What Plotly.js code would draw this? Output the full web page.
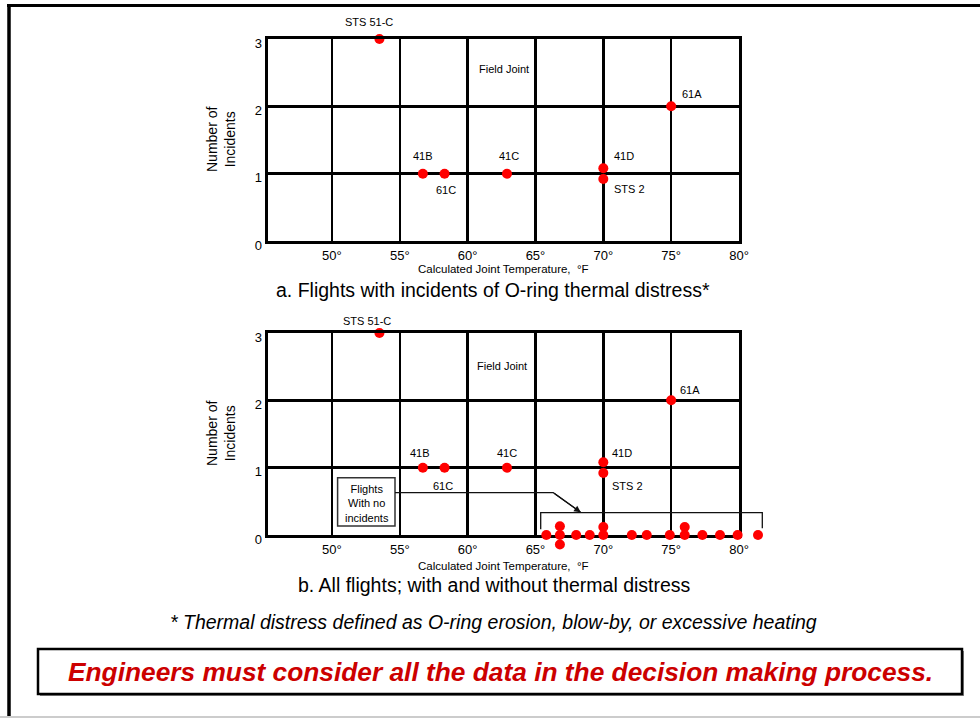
<!DOCTYPE html>
<html>
<head>
<meta charset="utf-8">
<script src="https://cdn.plot.ly/plotly-3.0.1.min.js"></script>
<style>
  html, body { margin: 0; padding: 0; background: #fff; }
  #chart { width: 980px; height: 719px; }
</style>
</head>
<body>
<div id="chart"></div>
<script>
// flights with O-ring incidents (field joint)
var flightNames = ['STS 51-C', '41B', '61C', '41C', '41D', 'STS 2', '61A'];
var incidentTemps = [53.5, 56.7, 58.3, 62.9, 70, 70, 75];
var incidentCounts = [3, 1, 1, 1, 1, 1, 2];
// as drawn: the two 70° flights are nudged apart so both dots show
var incidentPlotY = [3, 1, 1, 1, 1.08, 0.92, 2];

// flights with no incidents (only in chart b), stacked where temps repeat
var noIncidentTemps = [65.8, 66.8, 66.8, 66.8, 68, 69, 70, 70, 72.1, 73.2, 74.9, 76, 76, 77.3, 78.6, 79.9, 81.4];
var noIncidentPlotY = [0, 0.13, 0, -0.14, 0, 0, 0.12, 0, 0, 0, 0, 0.12, 0, 0, 0, 0, 0];

var tempTicks = [50, 55, 60, 65, 70, 75, 80];
var tempTickText = ['50°', '55°', '60°', '65°', '70°', '75°', '80°'];
var countTicks = [0, 1, 2, 3];

var W = 980, H = 719;
var FONT = 'Arial, "Liberation Sans", sans-serif';
function px(x) { return x / W; }
function py(y) { return 1 - y / H; }

// plot box, in page pixels
var LEFT = 267.5, RIGHT = 739;
var XMIN = 45.25, XMAX = 80;
var pxPerDeg = (RIGHT - LEFT) / (XMAX - XMIN);
var B_TOP = 333, B_BOTTOM = 535;
var pxPerCount = (B_BOTTOM - B_TOP) / 3;

var red = '#ff0000';

var traces = [
  {
    x: incidentTemps, y: incidentPlotY, xaxis: 'x', yaxis: 'y',
    type: 'scatter', mode: 'markers', cliponaxis: false,
    text: flightNames, customdata: incidentCounts,
    marker: { color: red, size: 10 }
  },
  {
    x: incidentTemps, y: incidentPlotY, xaxis: 'x2', yaxis: 'y2',
    type: 'scatter', mode: 'markers', cliponaxis: false,
    text: flightNames, customdata: incidentCounts,
    marker: { color: red, size: 10 }
  },
  // drawn on a hidden, slightly larger subplot with the same scale as chart b,
  // so the dots past 80° and below 0 are not cut off
  {
    x: noIncidentTemps, y: noIncidentPlotY, xaxis: 'x3', yaxis: 'y3',
    type: 'scatter', mode: 'markers', cliponaxis: false,
    marker: { color: red, size: 10 }
  }
];

function xAxis(anchor) {
  return {
    domain: [px(LEFT), px(RIGHT)], range: [XMIN, XMAX], anchor: anchor,
    tickvals: tempTicks, ticktext: tempTickText, ticks: '',
    tickfont: { family: FONT, size: 13, color: '#000' },
    showgrid: true, gridcolor: '#000', gridwidth: 2.5,
    showline: true, mirror: true, linecolor: '#000', linewidth: 3,
    zeroline: false, fixedrange: true
  };
}
function yAxis(anchor, top, bottom) {
  return {
    domain: [py(bottom), py(top)], range: [0, 3], anchor: anchor,
    tickvals: countTicks, ticks: '', ticklabelshift: 4,
    tickfont: { family: FONT, size: 13, color: '#000' },
    showgrid: true, gridcolor: '#000', gridwidth: 2.5,
    showline: true, mirror: true, linecolor: '#000', linewidth: 3,
    zeroline: false, fixedrange: true
  };
}
var hiddenRight = 800, hiddenBottom = 565;
var hiddenAxis = {
  visible: false, showgrid: false, zeroline: false, fixedrange: true
};

// label offsets in pixels from each flight's dot
var labelShiftA = [[-10, 17], [0, 18], [1, -16], [2, 18], [21, 12], [26, -10], [21, 12]];
var labelShiftB = [[-12, 12], [-3, 15], [-2, -18], [0, 15], [19, 9], [24, -13], [19, 10]];

var annotations = [];
function txt(x, y, text, size, extra) {
  var a = {
    xref: 'paper', yref: 'paper', x: px(x), y: py(y), text: text,
    showarrow: false, xanchor: 'center', yanchor: 'middle',
    font: { family: FONT, size: size, color: '#000' }
  };
  for (var k in extra) a[k] = extra[k];
  return a;
}

function flightLabels(xr, yr, shifts) {
  flightNames.forEach(function (name, i) {
    annotations.push({
      xref: xr, yref: yr, x: incidentTemps[i], y: incidentPlotY[i],
      xshift: shifts[i][0], yshift: shifts[i][1], text: name, showarrow: false,
      font: { family: FONT, size: 11, color: '#000' }
    });
  });
}
flightLabels('x', 'y', labelShiftA);
flightLabels('x2', 'y2', labelShiftB);

annotations.push(
  { xref: 'x', yref: 'y', x: 62.65, y: 2.55, text: 'Field Joint', showarrow: false,
    font: { family: FONT, size: 11, color: '#000' } },
  { xref: 'x2', yref: 'y2', x: 62.5, y: 2.51, text: 'Field Joint', showarrow: false,
    font: { family: FONT, size: 11, color: '#000' } },
  txt(221, 140, 'Number of<br>Incidents', 14, { textangle: -90 }),
  txt(221, 434, 'Number of<br>Incidents', 14, { textangle: -90 }),
  txt(503, 269.5, 'Calculated Joint Temperature,  °F', 11.5),
  txt(503, 566, 'Calculated Joint Temperature,  °F', 11.5),
  txt(493, 289.5, 'a. Flights with incidents of O-ring thermal distress*', 19.5),
  txt(494, 584.5, 'b. All flights; with and without thermal distress', 19.5),
  txt(493, 621.5, '<i>* Thermal distress defined as O-ring erosion, blow-by, or excessive heating</i>', 19.5),
  txt(500, 671.5, '<b><i>Engineers must consider all the data in the decision making process.</i></b>', 26.3,
      { font: { family: FONT, size: 26.3, color: '#cc0000' } }),
  txt(366.5, 503, 'Flights<br>With no<br>incidents', 11),
  // arrow head pointing at the bracket
  { xref: 'paper', yref: 'paper', x: px(580.7), y: py(512.3), ax: -27.4, ay: -19.6,
    text: '', showarrow: true, arrowhead: 2, arrowsize: 1.1, arrowwidth: 1.2, arrowcolor: '#111' }
);

function path(points) {
  return points.map(function (p, i) {
    return (i ? 'L' : 'M') + px(p[0]) + ',' + py(p[1]);
  }).join(' ');
}

var shapes = [
  // slide frame
  { type: 'line', xref: 'paper', yref: 'paper', x0: px(7), x1: 1, y0: py(5.5), y1: py(5.5),
    line: { color: '#000', width: 3 } },
  { type: 'line', xref: 'paper', yref: 'paper', x0: px(9), x1: px(9), y0: py(4), y1: py(716),
    line: { color: '#000', width: 3.5 } },
  { type: 'line', xref: 'paper', yref: 'paper', x0: 0, x1: 1, y0: py(717), y1: py(717),
    line: { color: '#bbbbbb', width: 1.5 } },
  // message box with shadow
  { type: 'rect', xref: 'paper', yref: 'paper', x0: px(40), x1: px(964), y0: py(651), y1: py(696),
    fillcolor: '#888888', line: { width: 0 } },
  { type: 'rect', xref: 'paper', yref: 'paper', x0: px(38), x1: px(962), y0: py(649), y1: py(694),
    fillcolor: '#ffffff', line: { color: '#000', width: 2.5 } },
  // "flights with no incidents" callout
  { type: 'rect', xref: 'paper', yref: 'paper', x0: px(337.6), x1: px(395), y0: py(477.7), y1: py(526),
    fillcolor: '#ffffff', line: { color: '#333', width: 1.5 } },
  { type: 'path', xref: 'paper', yref: 'paper',
    path: path([[395, 492.7], [553.3, 492.7], [580.7, 512.3]]),
    line: { color: '#111', width: 1.2 } },
  { type: 'path', xref: 'paper', yref: 'paper',
    path: path([[540.7, 529.3], [540.7, 512.7], [762.3, 512.7], [762.3, 528.3]]),
    line: { color: '#111', width: 1.3 } }
];

var x3 = Object.assign({}, hiddenAxis, {
  domain: [px(LEFT), px(hiddenRight)], anchor: 'y3',
  range: [XMIN, XMIN + (hiddenRight - LEFT) / pxPerDeg]
});
var y3 = Object.assign({}, hiddenAxis, {
  domain: [py(hiddenBottom), py(B_TOP)], anchor: 'x3',
  range: [3 - (hiddenBottom - B_TOP) / pxPerCount, 3]
});

var layout = {
  width: W, height: H,
  margin: { l: 0, r: 0, t: 0, b: 0 },
  paper_bgcolor: '#fff', plot_bgcolor: 'rgba(0,0,0,0)',
  showlegend: false,
  font: { family: FONT, color: '#000' },
  xaxis: xAxis('y'),
  yaxis: yAxis('x', 39, 241),
  xaxis2: xAxis('y2'),
  yaxis2: yAxis('x2', B_TOP, B_BOTTOM),
  xaxis3: x3,
  yaxis3: y3,
  annotations: annotations,
  shapes: shapes
};

Plotly.newPlot('chart', traces, layout, { staticPlot: true, displayModeBar: false });
</script>
</body>
</html>
